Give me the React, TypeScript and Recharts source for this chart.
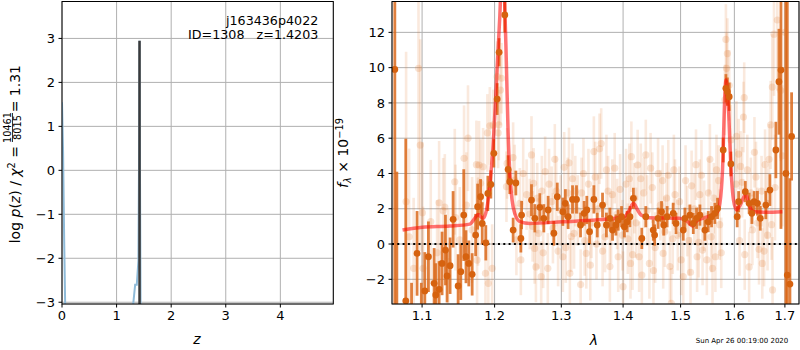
import { ComposedChart, Line, Scatter, ErrorBar, XAxis, YAxis, CartesianGrid, ReferenceLine } from 'recharts';

const FONT = "'DejaVu Sans', sans-serif";

// left panel: log p(z)
const zTicks = [0, 1, 2, 3, 4];
const logpTicks = [-3, -2, -1, 0, 1, 2, 3];
const pzRedshift = [0, 0.02, 0.04, 0.06, 0.1, 1.25, 1.3, 1.34, 1.37, 1.4, 1.415, 1.42, 1.425, 1.44, 1.5, 4.97];
const pzLogp = [1.55, 0.4, -1.6, -3.2, -8, -8, -3.1, -2.6, -2.6, -2.05, 1.0, 2.95, 1.0, -3.3, -8, -8];
const zBest = 1.4203;
const zBestRange = [-4, 2.95];

// right panel: spectrum
const lamTicks = [1.1, 1.2, 1.3, 1.4, 1.5, 1.6, 1.7];
const fluxTicks = [-2, 0, 2, 4, 6, 8, 10, 12];
const FLUX_MIN = -3.4;
const FLUX_MAX = 13.75;

// [wavelength, flux, error] of the binned points
const boldPoints: [number, number, number][] = [
  [1.0646, 9.9, 16], [1.0672, -4.5, 8.6], [1.0787, -3.23, 9.2], [1.0862, -4.0, 1.8], [1.0934, -0.53, 2.4],
  [1.099, -4.2, 2.0], [1.1036, -2.66, 2.2], [1.1084, -0.72, 2.0], [1.116, -2.23, 2.0], [1.1182, -2.89, 1.8],
  [1.1227, -2.57, 1.6], [1.1267, -1.1, 1.8], [1.1313, -0.34, 2.0], [1.1335, -1.81, 1.5], [1.1376, -1.23, 1.6],
  [1.1417, 1.4, 1.6], [1.1486, -2.38, 1.8], [1.1523, -1.57, 1.6], [1.1564, 1.64, 2.6], [1.1595, -0.72, 1.5],
  [1.1634, -1.1, 1.3], [1.1681, -1.72, 1.2], [1.173, 0.51, 1.2], [1.1758, 2.12, 1.3], [1.18, 2.68, 1.0],
  [1.1823, 1.17, 1.2], [1.1874, 0.07, 1.0], [1.1903, 2.87, 1.0], [1.1946, 3.38, 0.8], [1.1989, 5.14, 0.8],
  [1.2037, 8.22, 0.9], [1.2065, 10.87, 0.8], [1.2148, 12.99, 1.0], [1.2196, 4.23, 0.8], [1.2221, 3.53, 0.7],
  [1.227, 0.79, 0.7], [1.231, 3.46, 0.7], [1.2384, 0.32, 0.8], [1.2395, 1.64, 0.8], [1.2543, 2.49, 0.9],
  [1.2594, 1.46, 0.8], [1.2669, 2.08, 0.8], [1.273, 1.46, 0.8], [1.2796, 1.93, 0.8], [1.2884, 0.61, 0.7],
  [1.2937, 2.68, 0.8], [1.3024, 1.83, 0.8], [1.3063, 2.31, 0.8], [1.3107, 1.55, 0.7], [1.3176, 2.53, 0.8],
  [1.3239, 2.53, 0.8], [1.3303, 1.08, 0.7], [1.3361, 1.74, 0.7], [1.3404, 1.93, 0.8], [1.3448, 0.7, 0.7],
  [1.3518, 2.53, 0.8], [1.3573, 1.08, 0.7], [1.3659, 2.21, 0.7], [1.3723, 1.08, 0.7], [1.378, 1.46, 0.6],
  [1.3824, 0.79, 0.6], [1.388, 1.08, 0.6], [1.3918, 1.36, 0.6], [1.3974, 1.55, 0.6], [1.4022, 0.98, 0.6],
  [1.4068, 1.27, 0.6], [1.4116, 1.55, 0.6], [1.4174, 2.59, 0.6], [1.4318, 0.32, 0.6], [1.4387, 1.55, 0.6],
  [1.4516, 0.79, 0.6], [1.454, 0.51, 0.6], [1.46, 1.46, 0.6], [1.4661, 1.83, 0.6], [1.47, 1.08, 0.6],
  [1.476, 1.55, 0.6], [1.4868, 1.74, 0.6], [1.4918, 1.17, 0.6], [1.5048, 0.79, 0.6], [1.5078, 1.46, 0.6],
  [1.5169, 1.64, 0.6], [1.523, 1.17, 0.6], [1.529, 1.46, 0.6], [1.5352, 1.64, 0.6], [1.5444, 0.79, 0.6],
  [1.5506, 1.27, 0.6], [1.5568, 1.55, 0.6], [1.563, 1.74, 0.6], [1.568, 2.02, 0.6], [1.5787, 5.33, 0.7],
  [1.5838, 8.83, 0.8], [1.5866, 8.64, 0.8], [1.5901, 8.35, 0.8], [1.5933, 4.54, 0.7], [1.6054, 1.55, 0.6],
  [1.6082, 2.4, 0.6], [1.6211, 2.97, 0.6], [1.6286, 2.31, 0.6], [1.634, 1.74, 0.6], [1.6384, 2.4, 0.6],
  [1.6449, 2.31, 0.7], [1.6505, 1.46, 0.7], [1.6615, 2.21, 0.8], [1.6697, 3.06, 0.9], [1.6817, 5.33, 1.6],
  [1.6879, 9.2, 3.0], [1.692, 9.86, 9.0], [1.702, 4.0, 16], [1.7049, -1.76, 16], [1.7103, -2.27, 6],
  [1.7137, 6.1, 2.5],
];

// [wavelength, flux, error] of the unbinned (faint) points
const faintPoints: [number, number, number][] = [
  [1.0791, 2.4, 8.5], [1.083, 0.41, 5.0], [1.0889, -1.38, 4.0], [1.0953, 9.96, 8.0], [1.0975, 5.61, 6.0],
  [1.1005, 1.77, 4.0], [1.1013, -1.38, 3.5], [1.1115, 1.27, 3.5], [1.12, -0.5, 3.0], [1.1227, 2.34, 3.5],
  [1.1281, 1.88, 3.0], [1.1304, 2.1, 3.0], [1.135, -1.0, 3.0], [1.144, 3.53, 3.0], [1.145, 1.5, 3.0],
  [1.1509, 0.23, 3.0], [1.1568, 4.86, 3.0], [1.16, 2.2, 3.0], [1.1623, 6.0, 3.0], [1.168, 0.8, 3.0],
  [1.1741, 4.5, 2.5], [1.175, -0.91, 2.5], [1.1764, 1.27, 2.5], [1.1778, 4.48, 2.5], [1.18, 3.44, 2.5],
  [1.1835, 4.38, 2.2], [1.1869, -1.66, 2.5], [1.1896, 6.3, 2.2], [1.191, -2.23, 2.5], [1.1931, 6.7, 2.2],
  [1.1965, -1.38, 2.5], [1.198, 6.75, 2.0], [1.2037, 9.49, 2.0], [1.2051, 6.3, 2.0], [1.2061, 6.75, 2.0],
  [1.2085, 8.73, 2.0], [1.21, 9.4, 2.0], [1.2172, 3.25, 2.0], [1.2181, 4.57, 2.0], [1.227, 4.9, 2.0],
  [1.2293, 3.63, 2.0], [1.2318, 0.23, 2.0], [1.2369, 2.31, 2.0], [1.2384, -0.9, 2.0], [1.2419, 4.0, 2.0],
  [1.247, 2.8, 2.0], [1.2518, 1.7, 2.0], [1.2543, 5.05, 2.2], [1.2575, 3.44, 2.0], [1.259, -0.25, 2.0],
  [1.261, -1.3, 2.0], [1.265, 0.6, 2.0], [1.269, -1.85, 2.0], [1.27, 3.0, 2.0], [1.275, 4.1, 2.0],
  [1.2791, -1.38, 2.0], [1.285, 2.4, 2.0], [1.2899, 4.8, 2.0], [1.295, -0.4, 2.0], [1.3024, -0.72, 2.0],
  [1.3045, 4.35, 2.0], [1.31, 2.9, 2.0], [1.3134, -1.66, 2.0], [1.3156, 0.42, 2.0], [1.3176, 3.7, 2.0],
  [1.322, 3.0, 2.0], [1.3305, -2.3, 2.0], [1.335, 4.0, 2.0], [1.3395, -0.53, 2.0], [1.343, 3.4, 2.0],
  [1.348, 1.2, 2.0], [1.3518, 5.24, 2.0], [1.356, 0.0, 2.0], [1.361, 5.4, 2.0], [1.3637, 5.7, 2.0],
  [1.37, 0.4, 2.0], [1.3723, 4.2, 2.0], [1.378, -1.28, 2.0], [1.382, 2.8, 2.0], [1.3918, -0.72, 2.0],
  [1.395, 3.1, 2.0], [1.4, -2.42, 2.0], [1.405, 3.4, 2.0], [1.4106, 3.7, 2.0], [1.4125, -1.1, 2.0],
  [1.414, 4.95, 2.0], [1.416, -0.6, 2.0], [1.4247, 4.48, 2.0], [1.4272, -0.72, 2.0], [1.4319, -1.76, 2.0],
  [1.435, 2.9, 2.0], [1.4387, 5.05, 2.0], [1.4449, -1.1, 2.0], [1.45, 3.2, 2.0], [1.455, -0.2, 2.0],
  [1.46, 4.0, 2.0], [1.468, 3.6, 2.0], [1.469, -0.53, 2.0], [1.475, 2.6, 2.0], [1.4809, -1.28, 2.0],
  [1.4834, -3.36, 2.0], [1.49, 2.8, 2.0], [1.495, 0.5, 2.0], [1.5048, -1.85, 2.0], [1.515, 0.2, 2.0],
  [1.52, 3.3, 2.0], [1.528, 4.5, 2.0], [1.53, -0.72, 2.0], [1.535, 2.8, 2.0], [1.5401, -0.34, 2.0],
  [1.548, -0.9, 2.0], [1.5537, 4.8, 2.0], [1.5586, -1.38, 2.0], [1.564, -0.72, 2.0], [1.57, 3.6, 2.0],
  [1.575, -0.5, 2.0], [1.5819, 8.17, 2.0], [1.5838, 11.6, 2.0], [1.585, 9.96, 2.0], [1.5866, 10.8, 2.0],
  [1.5901, 9.0, 2.0], [1.5933, 5.9, 2.0], [1.604, 6.1, 2.0], [1.6082, 5.1, 2.0], [1.61, 0.2, 2.0],
  [1.615, 3.5, 2.0], [1.6176, 7.2, 2.0], [1.619, 8.3, 2.0], [1.625, 4.2, 2.0], [1.6286, -1.3, 2.0],
  [1.635, 0.8, 2.0], [1.642, 3.8, 2.0], [1.648, -0.3, 2.0], [1.6545, -1.1, 2.0], [1.66, 4.5, 2.0],
  [1.665, 0.5, 2.0], [1.6712, 6.75, 2.5], [1.6745, 8.9, 3.0], [1.675, -2.6, 3.0], [1.6779, 11.9, 3.5],
  [1.68, 3.2, 3.0], [1.6846, 12.7, 4.0], [1.6914, 8.7, 4.0], [1.695, 5.0, 4.0], [1.7, 12.0, 5.0],
  [1.256, 1.0, 2.0], [1.263, 2.6, 2.0], [1.272, -0.5, 2.0], [1.281, 3.4, 2.0], [1.287, 0.9, 2.0],
  [1.292, 3.0, 2.0], [1.299, 1.9, 2.0], [1.307, -0.2, 2.0], [1.312, 4.6, 2.0], [1.32, 0.6, 2.0],
  [1.326, 1.9, 2.0], [1.332, 2.9, 2.0], [1.337, 0.2, 2.0], [1.346, -1.2, 2.0], [1.354, 3.8, 2.0],
  [1.359, 2.0, 2.0], [1.366, -0.4, 2.0], [1.375, 3.0, 2.0], [1.38, 0.9, 2.0], [1.386, 4.3, 2.0],
  [1.39, 1.7, 2.0], [1.399, 0.5, 2.0], [1.408, 0.3, 2.0], [1.419, 2.6, 2.0], [1.422, 1.2, 2.0],
  [1.43, 3.7, 2.0], [1.441, 1.9, 2.0], [1.447, 4.3, 2.0], [1.452, -1.5, 2.0], [1.464, 2.2, 2.0],
  [1.472, 0.7, 2.0], [1.478, 3.9, 2.0], [1.486, 0.3, 2.0], [1.488, 4.2, 2.0], [1.498, 2.4, 2.0],
  [1.501, -0.9, 2.0], [1.509, 3.6, 2.0], [1.512, 1.3, 2.0], [1.518, -1.6, 2.0], [1.525, 2.0, 2.0],
  [1.533, 0.1, 2.0], [1.538, 3.9, 2.0], [1.543, 1.6, 2.0], [1.551, 2.9, 2.0], [1.556, 0.4, 2.0],
  [1.561, 2.6, 2.0], [1.566, 4.2, 2.0], [1.572, 1.1, 2.0], [1.603, 3.4, 2.0], [1.612, 4.4, 2.0],
  [1.62, -0.6, 2.0], [1.632, 2.9, 2.0], [1.639, 5.2, 2.0], [1.645, 1.2, 2.0], [1.653, 3.0, 2.0],
  [1.658, -0.4, 2.0], [1.663, 2.3, 2.0], [1.668, 4.8, 2.0], [1.673, 1.1, 2.0],
];

// model spectrum [wavelength, flux]
const modelPoints: [number, number][] = [
  [1.0745, 0.79], [1.1002, 0.95], [1.1372, 1.02], [1.1648, 1.13], [1.1718, 1.46], [1.1764, 1.68],
  [1.18, 1.55], [1.1835, 1.46], [1.186, 1.6], [1.1884, 1.93], [1.1931, 3.3], [1.1989, 6.3],
  [1.2037, 10.0], [1.2075, 12.9], [1.211, 16.0], [1.214, 14.5], [1.2172, 10.0], [1.2196, 6.3],
  [1.2221, 4.0], [1.2254, 2.5], [1.2293, 1.74], [1.2369, 1.27], [1.2518, 1.17], [1.3024, 1.27],
  [1.3555, 1.36], [1.4022, 1.55], [1.4106, 1.93], [1.4174, 2.31], [1.4247, 1.93], [1.4305, 1.64],
  [1.4449, 1.49], [1.4977, 1.46], [1.5127, 1.27], [1.5217, 1.02], [1.528, 1.27], [1.5401, 1.46],
  [1.5586, 1.64], [1.568, 1.83], [1.5725, 2.31], [1.5774, 4.2], [1.5819, 8.5], [1.5838, 9.3],
  [1.5888, 7.6], [1.5933, 4.38], [1.5983, 2.49], [1.604, 1.93], [1.6112, 2.21], [1.6222, 2.82],
  [1.6286, 2.21], [1.6384, 1.83], [1.6615, 1.8], [1.6949, 1.83],
];

// error bars are cut at the plot edges, like matplotlib's clipping
const toBar = ([x, y, e]: [number, number, number]) => ({
  x,
  y,
  bar: [y - Math.max(y - e, FLUX_MIN), Math.min(y + e, FLUX_MAX) - y],
});

const pzData = pzRedshift.map((z, i) => ({ x: z, y: pzLogp[i] }));
const zBestData = zBestRange.map((v) => ({ x: zBest, y: v }));
const boldData = boldPoints.map(toBar);
const faintData = faintPoints.map(toBar);
const modelData = modelPoints.map(([x, y]) => ({ x, y }));

const minus = (v: number) => (v < 0 ? `\u2212${Math.abs(v)}` : `${v}`);
const tickStyle = { fontSize: 13, fill: '#000', fontFamily: FONT };

const boldDot = (p: any) => <circle cx={p.cx} cy={p.cy} r={3.4} fill="#d6620f" />;
const faintDot = (p: any) => <circle cx={p.cx} cy={p.cy} r={3.6} fill="rgba(226,120,45,0.2)" />;

export default function App() {
  return (
    <div style={{ position: 'absolute', left: 0, top: 0, width: 800, height: 350, background: '#fff', fontFamily: FONT }}>
      <div style={{ position: 'absolute', left: 0, top: 0 }}>
        <ComposedChart width={340} height={350} margin={{ top: 1.5, right: 6.7, bottom: 16, left: 0 }}>
          <CartesianGrid stroke="#b0b0b0" strokeWidth={1} />
          <XAxis type="number" dataKey="x" domain={[0, 4.97]} ticks={zTicks} interval={0} allowDataOverflow
            height={30} axisLine={false} tickLine={{ stroke: '#000' }} tickSize={3.5} tickMargin={3.5}
            tick={tickStyle} tickFormatter={minus} />
          <YAxis type="number" dataKey="y" domain={[-3.04, 3.84]} ticks={logpTicks} interval={0} allowDataOverflow
            width={62} axisLine={false} tickLine={{ stroke: '#000' }} tickSize={3.5} tickMargin={3.5}
            tick={tickStyle} tickFormatter={minus} />
          <Line data={pzData} dataKey="y" type="linear" stroke="#8fbbd9" strokeWidth={2} dot={false} isAnimationActive={false} />
          <Line data={zBestData} dataKey="y" type="linear" stroke="#3a3a3a" strokeWidth={2.5} dot={false} isAnimationActive={false} />
        </ComposedChart>
      </div>
      <div style={{ position: 'absolute', left: 340, top: 0 }}>
        <ComposedChart width={460} height={350} margin={{ top: 1.5, right: 1, bottom: 16, left: 0 }}>
          <CartesianGrid stroke="#b0b0b0" strokeWidth={1} />
          <XAxis type="number" dataKey="x" scale="log" domain={[1.061, 1.729]} ticks={lamTicks} interval={0} allowDataOverflow
            height={30} axisLine={false} tickLine={{ stroke: '#000' }} tickSize={3.5} tickMargin={3.5}
            tick={tickStyle} tickFormatter={(v: number) => v.toFixed(1)} />
          <YAxis type="number" dataKey="y" domain={[FLUX_MIN, FLUX_MAX]} ticks={fluxTicks} interval={0} allowDataOverflow
            width={52} axisLine={false} tickLine={{ stroke: '#000' }} tickSize={3.5} tickMargin={3.5}
            tick={tickStyle} tickFormatter={minus} />
          <Scatter data={faintData} shape={faintDot} isAnimationActive={false}>
            <ErrorBar dataKey="bar" direction="y" width={0} stroke="rgba(226,120,45,0.16)" strokeWidth={2.6} isAnimationActive={false} />
          </Scatter>
          <Scatter data={boldData} shape={boldDot} isAnimationActive={false}>
            <ErrorBar dataKey="bar" direction="y" width={0} stroke="rgba(217,100,20,0.82)" strokeWidth={2.8} isAnimationActive={false} />
          </Scatter>
          <Line data={modelData} dataKey="y" type="monotone" stroke="rgba(255,0,0,0.55)" strokeWidth={3.5} dot={false} isAnimationActive={false} />
          <ReferenceLine y={0} stroke="#000" strokeWidth={2} strokeDasharray="2 3.3" />
        </ComposedChart>
      </div>
      <svg width={800} height={350} style={{ position: 'absolute', left: 0, top: 0, pointerEvents: 'none' }} fontFamily={FONT}>
        <rect x={62} y={1.5} width={271.3} height={302.5} fill="none" stroke="#000" strokeWidth={1} />
        <rect x={392} y={1.5} width={407} height={302.5} fill="none" stroke="#000" strokeWidth={1} />

        <text x={318.3} y={25} fontSize={12.7} textAnchor="end">j163436p4022</text>
        <text x={318.3} y={39.3} fontSize={12.7} textAnchor="end" style={{ whiteSpace: 'pre' }}>{'ID=1308   z=1.4203'}</text>

        <text x={197} y={343.5} fontSize={14} fontStyle="italic" textAnchor="middle">z</text>
        <text x={594} y={345} fontSize={14} fontStyle="italic" textAnchor="middle">λ</text>

        <g transform="translate(20,154) rotate(-90)" fontSize={14}>
          <text x={-89.3} y={0}>
            {'log '}<tspan fontStyle="italic">p</tspan>{'('}<tspan fontStyle="italic">z</tspan>{') / '}
            <tspan fontStyle="italic">χ</tspan><tspan fontSize={9.8} dy={-5.5}>2</tspan><tspan dy={5.5}>{' ='}</tspan>
          </text>
          <text x={26.5} y={-9.5} fontSize={9.8} textAnchor="middle">10461</text>
          <line x1={12} x2={41} y1={-7.5} y2={-7.5} stroke="#000" strokeWidth={0.8} />
          <text x={26.5} y={1} fontSize={9.8} textAnchor="middle">8015</text>
          <text x={89} y={0} textAnchor="end">= 1.31</text>
        </g>

        <g transform="translate(348,153) rotate(-90)" fontSize={14}>
          <text x={0} y={0} textAnchor="middle">
            <tspan fontStyle="italic">f</tspan><tspan fontStyle="italic" fontSize={9.8} dy={3}>λ</tspan>
            <tspan dy={-3}>{' × 10'}</tspan><tspan fontSize={9.8} dy={-5.5}>−19</tspan>
          </text>
        </g>

        <text x={742} y={343} fontSize={7} textAnchor="middle">Sun Apr 26 00:19:00 2020</text>
      </svg>
    </div>
  );
}
